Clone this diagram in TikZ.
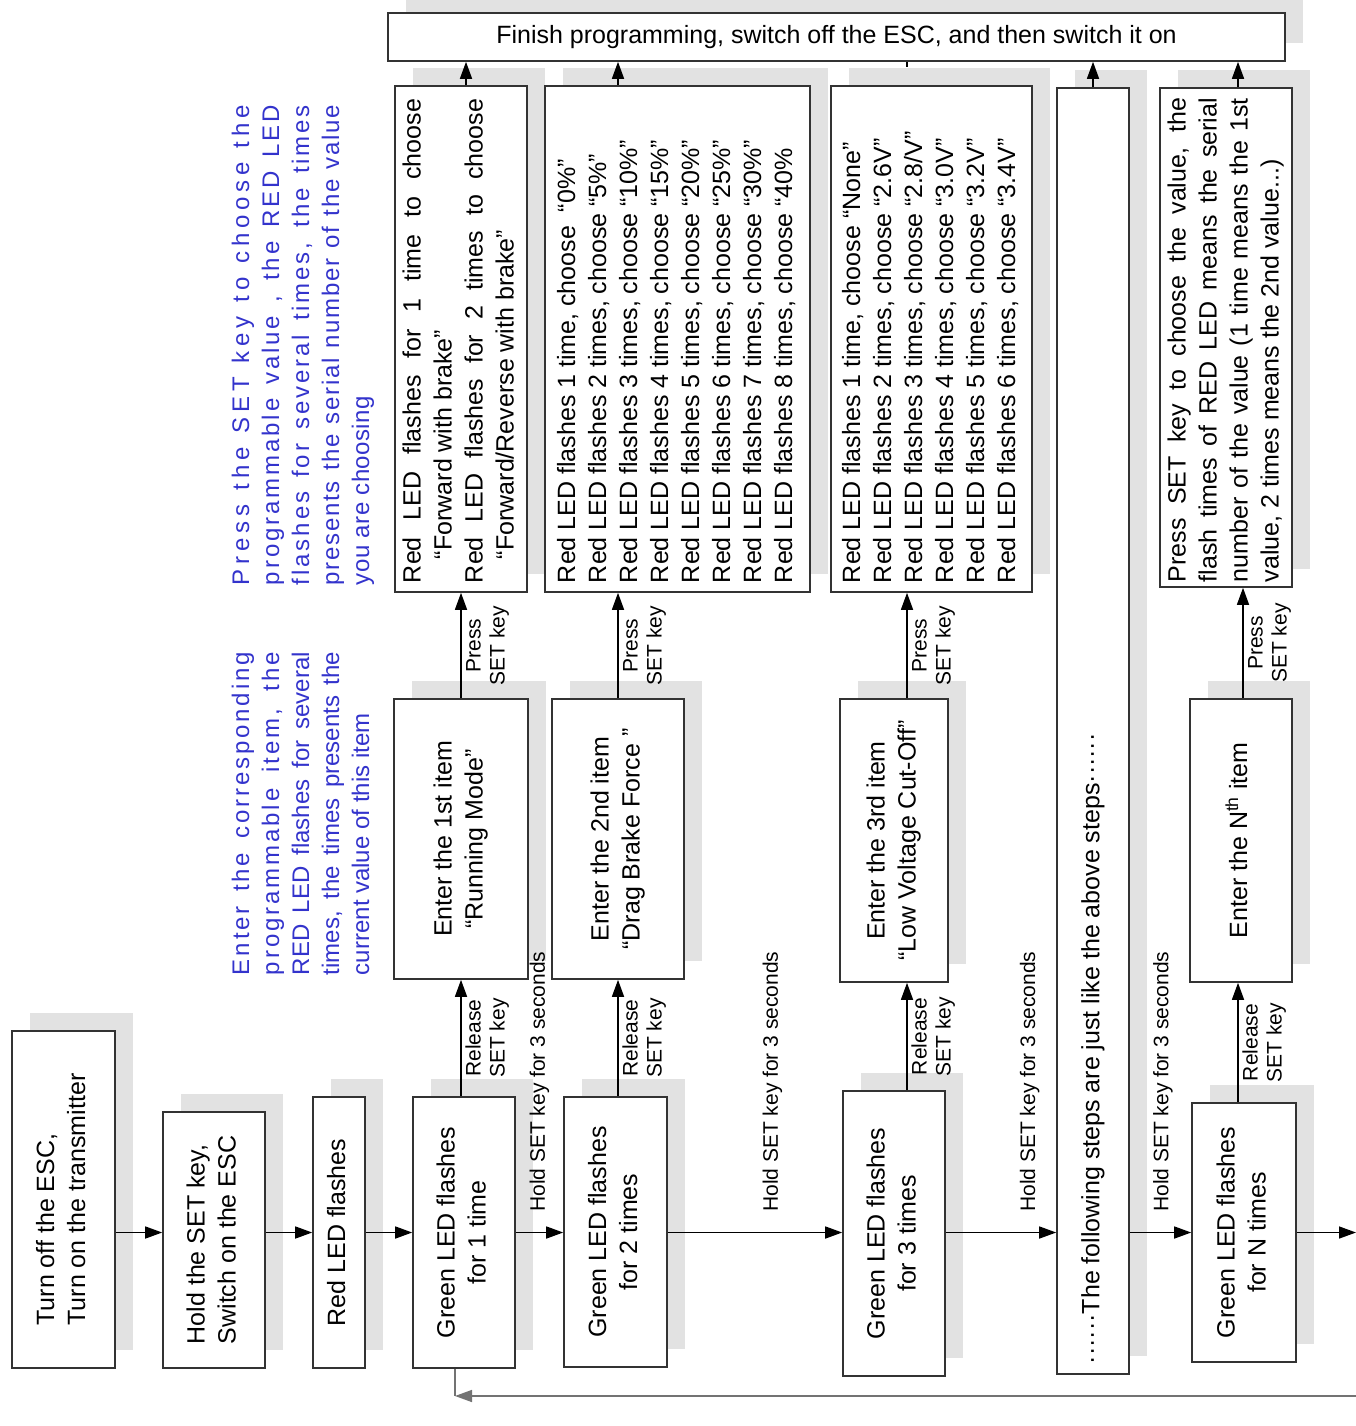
\documentclass[tikz,border=0pt]{standalone}
\usepackage{fontspec}
\setmainfont{Liberation Sans}
\usepackage{graphicx}
\usetikzlibrary{arrows.meta}
\usetikzlibrary{shadows}
\usetikzlibrary{calc}

\definecolor{noteblue}{RGB}{51,51,204}
\definecolor{shade}{RGB}{226,226,226}
\newcommand{\vturn}[2][c]{\rotatebox{90}{\begin{tabular}{@{}#1@{}}#2\end{tabular}}}
\newcommand{\vstack}[2]{\rotatebox{90}{\makebox[#1][l]{\begin{tabular}{@{}l@{}}#2\end{tabular}}}}
\newcommand{\fullline}[2]{\makebox[#1][s]{#2}}
\newcommand{\spread}[3]{\makebox[#1][s]{\addfontfeatures{LetterSpace=#2}#3}}

\tikzset{
  box/.style={draw=black!80, line width=1.6pt, fill=white, inner sep=0pt,
    general shadow={fill=shade, shadow xshift=18pt, shadow yshift=18pt},
    font=\fontsize{25}{31}\selectfont},
  arr/.style={line width=1.5pt, -{Triangle[length=17pt,width=12pt]}},
  keylbl/.style={font=\fontsize{21}{24}\selectfont, inner sep=2pt},
  note/.style={text=noteblue, inner sep=0pt, font=\fontsize{24}{30}\selectfont},
}

\begin{document}
\begin{tikzpicture}[x=1pt, y=-1pt]
\useasboundingbox (0,0) rectangle (1356,1426);

\node[box, minimum width=897pt, minimum height=48pt] (finish) at (836.5,37) {Finish programming, switch off the ESC, and then switch it on};

\node[box, minimum width=132pt, minimum height=506pt] (runmode) at (461,339) {\vstack{488pt}{\fullline{484pt}{Red LED flashes for 1 time to choose}\\ \hspace*{24pt}“Forward with brake”\\ \fullline{484pt}{Red LED flashes for 2 times to choose}\\ \hspace*{24pt}“Forward/Reverse with brake”}};
\node[box, minimum width=265pt, minimum height=506pt] (dragbrake) at (677.5,339) {\vstack{488pt}{Red LED flashes 1 time, choose \ “0\%”\\ Red LED flashes 2 times, choose “5\%”\\ Red LED flashes 3 times, choose “10\%”\\ Red LED flashes 4 times, choose “15\%”\\ Red LED flashes 5 times, choose “20\%”\\ Red LED flashes 6 times, choose “25\%”\\ Red LED flashes 7 times, choose “30\%”\\ Red LED flashes 8 times, choose “40\%}};
\node[box, minimum width=201pt, minimum height=506pt] (lowvolt) at (931.5,339) {\vstack{488pt}{Red LED flashes 1 time, choose “None”\\ Red LED flashes 2 times, choose “2.6V”\\ Red LED flashes 3 times, choose “2.8/V”\\ Red LED flashes 4 times, choose “3.0V”\\ Red LED flashes 5 times, choose “3.2V”\\ Red LED flashes 6 times, choose “3.4V”}};
\node[box, minimum width=72pt, minimum height=1286pt] (following) at (1093,731) {\rotatebox{90}{\makebox[1266pt][l]{······The following steps are just like the above steps······}}};
\node[box, minimum width=132pt, minimum height=499pt] (nvalue) at (1226,337.5) {\vstack{489pt}{\fullline{484pt}{Press SET key to choose the value, the}\\ \fullline{484pt}{flash times of RED LED means the serial}\\ \fullline{484pt}{number of the value (1 time means the 1st}\\ value, 2 times means the 2nd value...)}};

\node[box, minimum width=134pt, minimum height=280pt] (item1) at (461,839) {\vturn{Enter the 1st item\\“Running Mode”}};
\node[box, minimum width=132pt, minimum height=280pt] (item2) at (618,839) {\vturn{Enter the 2nd item\\“Drag Brake Force ”}};
\node[box, minimum width=108pt, minimum height=283pt] (item3) at (894,840.5) {\vturn{Enter the 3rd item\\“Low Voltage Cut-Off”}};
\node[box, minimum width=102pt, minimum height=283pt] (itemN) at (1241,840.5) {\vturn{Enter the N\textsuperscript{th} item}};

\node[box, minimum width=103pt, minimum height=337pt] (power) at (63.5,1199.5) {\vturn[l]{Turn off the ESC,\\Turn on the transmitter}};
\node[box, minimum width=102pt, minimum height=256pt] (holdset) at (214,1240) {\vturn[l]{Hold the SET key,\\Switch on the ESC}};
\node[box, minimum width=52pt, minimum height=271pt] (redled) at (339,1232.5) {\vturn{Red LED flashes}};
\node[box, minimum width=102pt, minimum height=271pt] (green1) at (464,1232.5) {\vturn{Green LED flashes\\for 1 time}};
\node[box, minimum width=103pt, minimum height=270pt] (green2) at (615.5,1232) {\vturn{Green LED flashes\\for 2 times}};
\node[box, minimum width=102pt, minimum height=285pt] (green3) at (894,1233.5) {\vturn{Green LED flashes\\for 3 times}};
\node[box, minimum width=104pt, minimum height=259pt] (greenN) at (1244,1232.5) {\vturn{Green LED flashes\\for N times}};

\node[note] (itemnote) at (303,813.5) {\vturn[l]{\spread{323pt}{12}{Enter the corresponding}\\ \spread{323pt}{12}{programmable item, the}\\ \fullline{323pt}{RED LED flashes for several}\\ \fullline{323pt}{times, the times presents the}\\ current value of this item}};
\node[note] (valuenote) at (303,345) {\vturn[l]{\spread{480pt}{20}{Press the SET key to choose the}\\ \spread{480pt}{12}{programmable value , the RED LED}\\ \spread{480pt}{12}{flashes for several times, the times}\\ \spread{480pt}{7}{presents the serial number of the value}\\ {\addfontfeatures{LetterSpace=2}you are choosing}}};

\coordinate (exit) at (1356,1232.5);
\coordinate (back) at (1356,1396);
\coordinate (backend) at (455,1396);

\draw[arr] (power.east |- redled) -- (holdset.west |- redled);
\draw[arr] (holdset.east |- redled) -- (redled.west);
\draw[arr] (redled.east) -- (green1.west);
\draw[arr] (green1.east) -- (green1.east -| green2.west) node[keylbl, pos=0.5, above=18pt] {\rotatebox{90}{Hold SET key for 3 seconds}};
\draw[arr] (green2.east |- green1) -- (green3.west |- green1) node[keylbl, pos=0.6, above=18pt] {\rotatebox{90}{Hold SET key for 3 seconds}};
\draw[arr] (green3.east |- green1) -- (following.west |- green1) node[keylbl, pos=0.76, above=18pt] {\rotatebox{90}{Hold SET key for 3 seconds}};
\draw[arr] (following.east |- greenN) -- (greenN.west) node[keylbl, pos=0.54, above=18pt] {\rotatebox{90}{Hold SET key for 3 seconds}};
\draw[arr] (greenN.east) -- (exit);

\draw[arr] (item1.south |- green1.north) -- (item1.south) node[keylbl, midway, right] {\vturn{Release\\SET key}};
\draw[arr] (item2.south |- green2.north) -- (item2.south) node[keylbl, midway, right] {\vturn{Release\\SET key}};
\draw[arr] ([xshift=13pt]item3.south |- green3.north) -- ([xshift=13pt]item3.south) node[keylbl, midway, right] {\vturn{Release\\SET key}};
\draw[arr] ([xshift=-3pt]itemN.south |- greenN.north) -- ([xshift=-3pt]itemN.south) node[keylbl, midway, right] {\vturn{Release\\SET key}};

\draw[arr] (item1.north) -- (item1.north |- runmode.south) node[keylbl, midway, right] {\vturn{Press\\SET key}};
\draw[arr] (item2.north) -- (item2.north |- dragbrake.south) node[keylbl, midway, right] {\vturn{Press\\SET key}};
\draw[arr] ([xshift=13pt]item3.north) -- ([xshift=13pt]item3.north |- lowvolt.south) node[keylbl, midway, right] {\vturn{Press\\SET key}};
\draw[arr] ([xshift=2pt]itemN.north) -- ([xshift=2pt]itemN.north |- nvalue.south) node[keylbl, midway, right] {\vturn{Press\\SET key}};

\draw[arr] ([xshift=5pt]runmode.north) -- ([xshift=5pt]runmode.north |- finish.south);
\draw[arr] (item2.north |- dragbrake.north) -- (item2.north |- finish.south);
\draw[line width=1.2pt] ([xshift=13pt]item3.north |- finish.south) -- ++(0,5);
\draw[arr] (following.north) -- (following.north |- finish.south);
\draw[arr] ([xshift=12pt]nvalue.north) -- ([xshift=12pt]nvalue.north |- finish.south);

\draw[arr, draw=black!55, fill=black!55] (back) -- (backend);
\draw[line width=1.5pt, black!55] (backend |- green1.south) -- (backend);
\end{tikzpicture}
\end{document}
